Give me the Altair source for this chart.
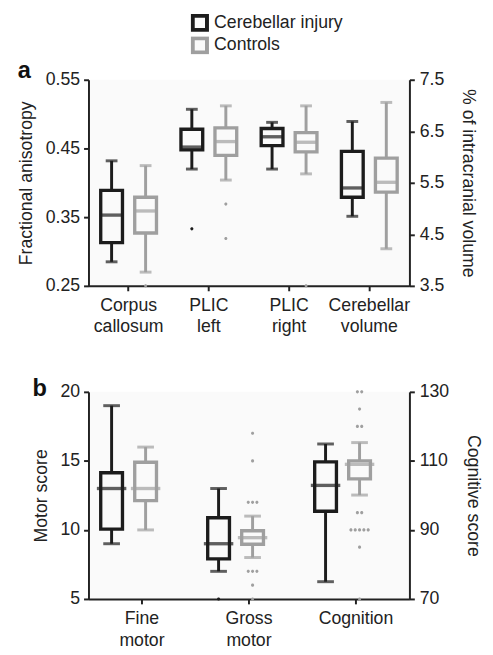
import altair as alt
import pandas as pd

FONT = "Liberation Sans"
BLACK = "#1c1c1c"
GRAY = "#9f9f9f"
BG = "#fafafa"

groups = ["Cerebellar injury", "Controls"]

# ---- panel a ----
fa_categories = ["Corpus callosum", "PLIC left", "PLIC right"]
vol_categories = ["Cerebellar volume"]
a_categories = fa_categories + vol_categories

fa_injury_low = [0.285, 0.420, 0.420]
fa_injury_q1 = [0.313, 0.448, 0.454]
fa_injury_median = [0.353, 0.452, 0.467]
fa_injury_q3 = [0.389, 0.478, 0.479]
fa_injury_high = [0.432, 0.507, 0.488]

fa_control_low = [0.270, 0.404, 0.413]
fa_control_q1 = [0.327, 0.440, 0.445]
fa_control_median = [0.359, 0.460, 0.459]
fa_control_q3 = [0.379, 0.480, 0.473]
fa_control_high = [0.425, 0.512, 0.512]

vol_injury_low = [4.85]
vol_injury_q1 = [5.22]
vol_injury_median = [5.40]
vol_injury_q3 = [6.11]
vol_injury_high = [6.69]

vol_control_low = [4.22]
vol_control_q1 = [5.32]
vol_control_median = [5.51]
vol_control_q3 = [5.98]
vol_control_high = [7.06]

fa_outlier_category = ["Corpus callosum", "PLIC left", "PLIC left", "PLIC left", "PLIC right"]
fa_outlier_group = ["Controls", "Cerebellar injury", "Controls", "Controls", "Controls"]
fa_outlier_value = [0.25, 0.333, 0.369, 0.319, 0.25]
fa_outlier_count = [1, 1, 1, 1, 1]

fa_ticks = [0.25, 0.35, 0.45, 0.55]
vol_ticks = [3.5, 4.5, 5.5, 6.5, 7.5]

# ---- panel b ----
motor_categories = ["Fine motor", "Gross motor"]
cog_categories = ["Cognition"]
b_categories = motor_categories + cog_categories

motor_injury_low = [9.0, 7.0]
motor_injury_q1 = [10.06, 7.9]
motor_injury_median = [13.0, 9.0]
motor_injury_q3 = [14.14, 10.88]
motor_injury_high = [19.0, 13.0]

motor_control_low = [10.0, 8.0]
motor_control_q1 = [12.12, 8.96]
motor_control_median = [13.0, 9.44]
motor_control_q3 = [14.9, 9.94]
motor_control_high = [16.0, 11.0]

cog_injury_low = [75.0]
cog_injury_q1 = [95.4]
cog_injury_median = [102.9]
cog_injury_q3 = [109.7]
cog_injury_high = [114.9]

cog_control_low = [100.1]
cog_control_q1 = [104.8]
cog_control_median = [109.0]
cog_control_q3 = [110.0]
cog_control_high = [115.3]

motor_outlier_category = ["Gross motor"] * 7
motor_outlier_group = ["Cerebellar injury", "Controls", "Controls", "Controls",
                       "Controls", "Controls", "Controls"]
motor_outlier_value = [5, 17, 15, 12, 7, 6, 5]
motor_outlier_count = [1, 1, 1, 3, 3, 1, 1]

cog_outlier_category = ["Cognition"] * 7
cog_outlier_group = ["Controls"] * 7
cog_outlier_value = [130, 125, 120, 95, 90, 85, 70]
cog_outlier_count = [2, 1, 2, 2, 5, 1, 1]

motor_ticks = [5, 10, 15, 20]
cog_ticks = [70, 90, 110, 130]

cluster_sizes = [1, 2, 3, 5]


def box_frame(cats, inj, ctl):
    rows = []
    for g, stats in zip(groups, [inj, ctl]):
        low, q1, med, q3, high = stats
        for i, c in enumerate(cats):
            rows.append(dict(category=c, group=g, low=low[i], q1=q1[i],
                             median=med[i], q3=q3[i], high=high[i]))
    return pd.DataFrame(rows)


def outlier_frame(cats, grps, vals, counts):
    return pd.DataFrame(dict(category=cats, group=grps, value=vals, n=counts))


def dots_path(n, r=0.16, gap=0.44):
    parts = []
    for i in range(n):
        cx = (i - (n - 1) / 2) * gap
        parts.append(f"M{cx - r:.3f},0a{r},{r} 0 1,0 {2 * r},0a{r},{r} 0 1,0 {-2 * r},0Z")
    return "".join(parts)


shape_scale = alt.Scale(domain=cluster_sizes, range=[dots_path(n) for n in cluster_sizes])
color_scale = alt.Scale(domain=groups, range=[BLACK, GRAY])

legend_a = alt.Legend(
    orient="none", legendX=104, legendY=-67, title=None, direction="vertical",
    symbolType="square", symbolSize=210, symbolStrokeWidth=4,
    symbolFillColor="white", labelFont=FONT, labelFontSize=18,
    labelColor="#222", labelOffset=5, rowPadding=5, clipHeight=18, padding=0,
)


def box_layers(box_df, out_df, cats_all, yscale, yaxis, ytitle, cap, med_w, legend):
    x = alt.X("category:N", title=None,
              scale=alt.Scale(domain=cats_all, paddingInner=0, paddingOuter=0),
              axis=alt.Axis(labelAngle=0, labelExpr="split(datum.label, ' ')",
                            labelLineHeight=22, labelPadding=6))
    xo = alt.XOffset("group:N",
                     scale=alt.Scale(domain=groups, paddingInner=0.36, paddingOuter=0.36))
    col = alt.Color("group:N", scale=color_scale, legend=None)

    def y(f):
        return alt.Y(f"{f}:Q", scale=yscale, axis=yaxis, title=ytitle)

    base = alt.Chart(box_df).encode(x=x, xOffset=xo)
    whisker = base.mark_rule(strokeWidth=3).encode(y=y("low"), y2="high", color=col)
    box = base.mark_bar(fill=BG, strokeWidth=3.4).encode(
        y=y("q1"), y2="q3",
        stroke=alt.Stroke("group:N", scale=color_scale, legend=legend))
    med = base.mark_tick(size=med_w, thickness=3.4).encode(y=y("median"), color=col)
    cap_lo = base.mark_tick(size=cap, thickness=3).encode(y=y("low"), color=col)
    cap_hi = base.mark_tick(size=cap, thickness=3).encode(y=y("high"), color=col)
    layers = [whisker, box, med, cap_lo, cap_hi]
    if out_df is not None:
        layers.append(
            alt.Chart(out_df).mark_point(filled=True, size=400, opacity=1, strokeWidth=0)
            .encode(x=x, xOffset=xo, y=y("value"), color=col,
                    shape=alt.Shape("n:O", scale=shape_scale, legend=None)))
    return alt.layer(*layers)


def title(t, off):
    return alt.TitleParams(t, anchor="start", frame="bounds", fontSize=24,
                           fontWeight="bold", font=FONT, color="#111", offset=off)


# panel a
fa_box = box_frame(fa_categories,
                   [fa_injury_low, fa_injury_q1, fa_injury_median, fa_injury_q3, fa_injury_high],
                   [fa_control_low, fa_control_q1, fa_control_median, fa_control_q3, fa_control_high])
vol_box = box_frame(vol_categories,
                    [vol_injury_low, vol_injury_q1, vol_injury_median, vol_injury_q3, vol_injury_high],
                    [vol_control_low, vol_control_q1, vol_control_median, vol_control_q3, vol_control_high])
fa_out = outlier_frame(fa_outlier_category, fa_outlier_group, fa_outlier_value, fa_outlier_count)

left_a = box_layers(
    fa_box, fa_out, a_categories,
    alt.Scale(domain=[0.25, 0.55], nice=False, zero=False),
    alt.Axis(values=fa_ticks, format=".2f", titlePadding=10, labelPadding=4),
    "Fractional anisotropy", 12, 22, legend_a)
right_a = box_layers(
    vol_box, None, a_categories,
    alt.Scale(domain=[3.5, 7.5], nice=False, zero=False),
    alt.Axis(orient="right", values=vol_ticks, format=".1f", titlePadding=15,
             labelPadding=5, titleAngle=90),
    "% of intracranial volume", 12, 22, legend_a)
panel_a = alt.layer(left_a, right_a).resolve_scale(y="independent").properties(
    width=327, height=210, title=title("a", -70))

# panel b
motor_box = box_frame(motor_categories,
                      [motor_injury_low, motor_injury_q1, motor_injury_median, motor_injury_q3, motor_injury_high],
                      [motor_control_low, motor_control_q1, motor_control_median, motor_control_q3, motor_control_high])
cog_box = box_frame(cog_categories,
                    [cog_injury_low, cog_injury_q1, cog_injury_median, cog_injury_q3, cog_injury_high],
                    [cog_control_low, cog_control_q1, cog_control_median, cog_control_q3, cog_control_high])
motor_out = outlier_frame(motor_outlier_category, motor_outlier_group, motor_outlier_value, motor_outlier_count)
cog_out = outlier_frame(cog_outlier_category, cog_outlier_group, cog_outlier_value, cog_outlier_count)

left_b = box_layers(
    motor_box, motor_out, b_categories,
    alt.Scale(domain=[5, 20], nice=False, zero=False),
    alt.Axis(values=motor_ticks, format="d", titlePadding=10, labelPadding=4),
    "Motor score", 17, 30, None)
right_b = box_layers(
    cog_box, cog_out, b_categories,
    alt.Scale(domain=[70, 130], nice=False, zero=False),
    alt.Axis(orient="right", values=cog_ticks, format="d", titlePadding=15,
             labelPadding=5, titleAngle=90),
    "Cognitive score", 17, 30, None)
panel_b = alt.layer(left_b, right_b).resolve_scale(y="independent").properties(
    width=327, height=211, title=title("b", -18))

chart = alt.vconcat(panel_a, panel_b, spacing=42).resolve_scale(
    stroke="independent").resolve_legend(stroke="independent").properties(
    padding={"left": 9, "top": 0, "right": 3, "bottom": 0}
).configure_view(stroke=None, fill=BG).configure_axis(
    domainColor="#222", domainWidth=2, tickColor="#222", tickWidth=2, tickSize=5,
    labelFont=FONT, labelFontSize=18, labelColor="#222",
    titleFont=FONT, titleFontSize=18, titleFontWeight="normal", titleColor="#222",
    grid=False,
)

chart.save("out.html", embed_options={"renderer": "svg", "actions": False})
